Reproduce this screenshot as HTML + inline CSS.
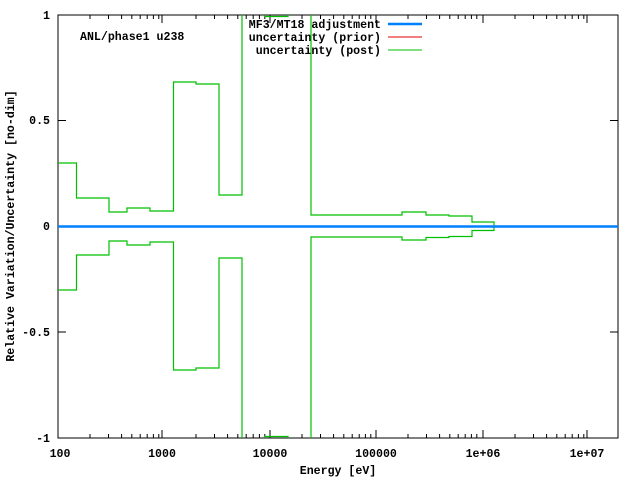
<!DOCTYPE html>
<html><head><style>body{margin:0;background:#fff}svg{display:block}text{font-family:"Liberation Mono",monospace;font-weight:bold;font-size:11.6px;fill:#000}</style></head><body>
<svg width="640" height="480" viewBox="0 0 640 480">
<rect width="640" height="480" fill="#fff"/>
<g stroke="#000" stroke-width="1" id="ticks">
<path d="M58 15V438H618V15Z" fill="none"/>
<path d="M58 15h8M58 120.5h8M58 226.5h8M58 332h8M58 438h8M618 15h-8M618 120.5h-8M618 226.5h-8M618 332h-8M618 438h-8"/>
<path d="M162 438v-8M270 438v-8M376 438v-8M483 438v-8M587 438v-8M162 15v8M270 15v8M376 15v8M483 15v8M587 15v8"/>
<path d="M90 438v-4M108.5 438v-4M121.6 438v-4M131.8 438v-4M140.2 438v-4M147.2 438v-4M153.4 438v-4M158.8 438v-4
M196 438v-4M214.5 438v-4M227.6 438v-4M237.8 438v-4M246.2 438v-4M253.2 438v-4M259.4 438v-4M264.8 438v-4
M302 438v-4M320.5 438v-4M333.6 438v-4M343.8 438v-4M352.2 438v-4M359.2 438v-4M365.4 438v-4M370.8 438v-4
M408 438v-4M426.5 438v-4M439.6 438v-4M449.8 438v-4M458.2 438v-4M465.2 438v-4M471.4 438v-4M476.8 438v-4
M515 438v-4M533.5 438v-4M546.6 438v-4M556.8 438v-4M565.2 438v-4M572.2 438v-4M578.4 438v-4M583.8 438v-4
M90 15v4M108.5 15v4M121.6 15v4M131.8 15v4M140.2 15v4M147.2 15v4M153.4 15v4M158.8 15v4
M196 15v4M214.5 15v4M227.6 15v4M237.8 15v4M246.2 15v4M253.2 15v4M259.4 15v4M264.8 15v4
M302 15v4M320.5 15v4M333.6 15v4M343.8 15v4M352.2 15v4M359.2 15v4M365.4 15v4M370.8 15v4
M408 15v4M426.5 15v4M439.6 15v4M449.8 15v4M458.2 15v4M465.2 15v4M471.4 15v4M476.8 15v4
M515 15v4M533.5 15v4M546.6 15v4M556.8 15v4M565.2 15v4M572.2 15v4M578.4 15v4M583.8 15v4"/>
</g>
<g text-anchor="end">
<text x="50" y="19">1</text><text x="50" y="124">0.5</text><text x="50" y="230">0</text><text x="50" y="336">-0.5</text><text x="50" y="442">-1</text>
</g>
<g text-anchor="middle">
<text x="60" y="457">100</text><text x="162" y="457">1000</text><text x="270" y="457">10000</text><text x="376" y="457">100000</text><text x="483" y="457">1e+06</text><text x="587" y="457">1e+07</text>
<text x="338" y="474">Energy [eV]</text>
<text transform="translate(14,226) rotate(-90)">Relative Variation/Uncertainty [no-dim]</text>
</g>
<text x="80" y="40">ANL/phase1 u238</text>
<g text-anchor="end"><text x="381" y="28">MF3/MT18 adjustment</text><text x="381" y="41">uncertainty (prior)</text><text x="381" y="54">uncertainty (post)</text></g>
<path d="M388 24h34" stroke="#0080ff" stroke-width="2.5"/>
<path d="M388 37h34" stroke="#e00000" stroke-width="1"/>
<path d="M388 50h34" stroke="#00c000" stroke-width="1"/>
<svg x="58" y="15" width="560" height="423" overflow="hidden">
<g transform="translate(-58,-15)" fill="none" stroke-width="1.2" stroke="#00c000">
<path d="M58 163H76.5V198H109V212H127V208H150V211H173.5V82H196V84H219V195H242V0H265V16.5H288V0H311V215H402V212H426V215H449V216H472V222H494V226.5H620"/>
<path d="M58 290H76.5V255H109V241H127V245H150V242H173.5V370H196V368H219V258H242V480H265V436.5H288V480H311V237H402V240H426V237.5H449V236.5H472V230.5H494V226.5H620"/>
</g>
</svg>
<path d="M58 226.5H618" stroke="#0080ff" stroke-width="2.5"/>
</svg>
</body></html>
